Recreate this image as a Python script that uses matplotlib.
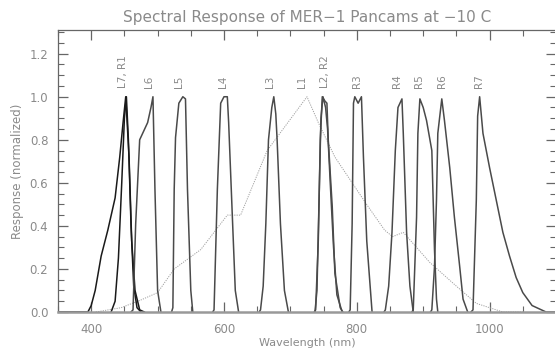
import matplotlib
matplotlib.use("Agg")
import matplotlib.pyplot as plt
from matplotlib.ticker import MultipleLocator

# ---- data ----
L7_wl = [350, 395, 400, 406, 415, 425, 436, 443, 448, 452, 457, 461, 466, 473, 480]
L7_r  = [0.0, 0.0, 0.03, 0.10, 0.26, 0.38, 0.53, 0.72, 0.88, 1.0, 0.72, 0.33, 0.10, 0.01, 0.0]
R1_wl = [430, 436, 441, 446, 450, 453, 456, 460, 464, 469, 475]
R1_r  = [0.0, 0.05, 0.25, 0.60, 0.90, 1.0, 0.80, 0.40, 0.12, 0.02, 0.0]
L6_wl = [460, 463, 467, 473, 479, 485, 490, 493, 496, 500, 505]
L6_r  = [0.0, 0.01, 0.41, 0.80, 0.84, 0.88, 0.95, 1.0, 0.57, 0.10, 0.0]
L5_wl = [521, 523, 525, 527, 532, 538, 542, 545, 550, 553]
L5_r  = [0.0, 0.02, 0.57, 0.81, 0.97, 1.0, 0.99, 0.57, 0.10, 0.0]
L4_wl = [583, 585, 590, 595, 600, 605, 607, 613, 617, 622]
L4_r  = [0.0, 0.01, 0.57, 0.97, 1.0, 1.0, 0.88, 0.41, 0.10, 0.0]
L3_wl = [653, 655, 659, 663, 667, 672, 675, 678, 680, 685, 691, 697]
L3_r  = [0.0, 0.01, 0.12, 0.41, 0.80, 0.95, 1.0, 0.92, 0.80, 0.41, 0.10, 0.0]
L2_wl = [736, 738, 742, 745, 748, 752, 755, 757, 763, 767, 775, 779]
L2_r  = [0.0, 0.01, 0.33, 0.80, 1.0, 0.98, 0.97, 0.80, 0.49, 0.18, 0.02, 0.0]
R2_wl = [737, 740, 743, 746, 749, 753, 756, 760, 765, 770, 778]
R2_r  = [0.0, 0.10, 0.50, 0.90, 1.0, 0.95, 0.85, 0.60, 0.30, 0.08, 0.0]
R3_wl = [788, 790, 793, 795, 797, 802, 807, 810, 815, 823]
R3_r  = [0.0, 0.01, 0.41, 0.97, 1.0, 0.97, 1.0, 0.72, 0.33, 0.0]
R4_wl = [841, 843, 848, 853, 858, 862, 868, 870, 875, 880, 885]
R4_r  = [0.0, 0.01, 0.12, 0.37, 0.75, 0.95, 0.99, 0.83, 0.37, 0.12, 0.0]
R5_wl = [883, 885, 890, 892, 895, 900, 905, 913, 915, 917, 920, 922]
R5_r  = [0.0, 0.01, 0.44, 0.83, 0.99, 0.95, 0.89, 0.75, 0.52, 0.29, 0.06, 0.0]
R6_wl = [911, 913, 917, 920, 922, 928, 932, 940, 947, 955, 960, 967]
R6_r  = [0.0, 0.01, 0.21, 0.52, 0.83, 0.99, 0.89, 0.67, 0.44, 0.21, 0.06, 0.0]
R7_wl = [972, 975, 980, 982, 985, 990, 1000, 1010, 1020, 1030, 1040, 1050, 1064, 1085, 1100]
R7_r  = [0.0, 0.01, 0.52, 0.91, 1.0, 0.83, 0.67, 0.52, 0.37, 0.26, 0.16, 0.09, 0.03, 0.0, 0.0]
L1_wl = [407, 445, 475, 500, 525, 565, 605, 625, 665, 725, 742, 767, 793, 817, 842, 854, 870, 910, 950, 980, 1020, 1050]
L1_r  = [0.0, 0.02, 0.056, 0.09, 0.20, 0.29, 0.45, 0.45, 0.75, 1.0, 0.88, 0.72, 0.60, 0.49, 0.38, 0.35, 0.37, 0.23, 0.12, 0.04, 0.0, 0.0]

label_text = ["L7, R1", "L6", "L5", "L4", "L3", "L1", "L2, R2", "R3", "R4", "R5", "R6", "R7"]
label_wl   = [448, 487, 532, 598, 670, 718, 752, 800, 860, 894, 929, 984]

narrow = [(L7_wl, L7_r), (R1_wl, R1_r), (L6_wl, L6_r), (L5_wl, L5_r), (L4_wl, L4_r),
          (L3_wl, L3_r), (L2_wl, L2_r), (R2_wl, R2_r), (R3_wl, R3_r), (R4_wl, R4_r),
          (R5_wl, R5_r), (R6_wl, R6_r), (R7_wl, R7_r)]

txt = "#8a8a8a"
fig = plt.figure(figsize=(5.55, 3.52), dpi=100)
ax = fig.add_axes([58 / 555, (352 - 312) / 352, 498 / 555, (312 - 30) / 352])

ax.plot(L1_wl, L1_r, color="#a0a0a0", lw=0.7, ls=(0, (1.2, 1.2)))
for i, (w, r) in enumerate(narrow):
    c = "#1a1a1a" if i < 2 else "#4a4a4a"
    ax.plot(w, r, color=c, lw=1.1)

for t, w in zip(label_text, label_wl):
    ax.text(w, 1.04, t, rotation=90, ha="center", va="bottom", fontsize=7.5, color=txt)

ax.set_xlim(350, 1100)
ax.set_ylim(0, 1.31)
ax.xaxis.set_major_locator(MultipleLocator(200))
ax.xaxis.set_minor_locator(MultipleLocator(50))
ax.yaxis.set_major_locator(MultipleLocator(0.2))
ax.yaxis.set_minor_locator(MultipleLocator(0.05))
ax.yaxis.set_major_formatter(plt.FuncFormatter(lambda v, p: f"{v:.1f}"))
ax.tick_params(which="both", direction="in", top=True, right=True, colors="#666666",
               labelcolor=txt, labelsize=8.5)
ax.tick_params(which="major", length=7, width=0.9)
ax.tick_params(which="minor", length=4, width=0.8)
ax.tick_params(axis="x", pad=8)
ax.tick_params(axis="y", pad=7)
for s in ax.spines.values():
    s.set_color("#666666")
    s.set_linewidth(0.9)
ax.spines["bottom"].set_color("#999999")
ax.spines["bottom"].set_linewidth(1.8)

ax.set_title("Spectral Response of MER\u22121 Pancams at \u221210 C", fontsize=11, color=txt, pad=6)
ax.set_xlabel("Wavelength (nm)", fontsize=8, color=txt, labelpad=1)
ax.set_ylabel("Response (normalized)", fontsize=8.5, color=txt, labelpad=4)

fig.savefig("out.png", dpi=100)
